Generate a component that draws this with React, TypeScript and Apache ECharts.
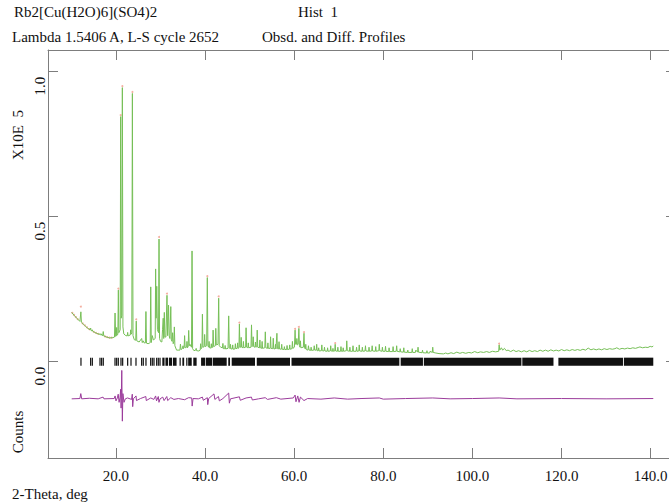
import React, { useEffect, useRef } from "react";
import * as echarts from "echarts";

const xTickValues = [20, 40, 60, 80, 100, 120, 140];
const yTickValues = [0, 0.5, 1.0];

const titleLine1 = "Rb2[Cu(H2O)6](SO4)2";
const histLabel = "Hist  1";
const titleLine2 = "Lambda 1.5406 A, L-S cycle 2652";
const profileLabel = "Obsd. and Diff. Profiles";
const yScaleLabel = "X10E  5";
const yUnitLabel = "Counts";
const xAxisLabel = "2-Theta, deg";

const calcProfile: [number, number][] = [
  [10.06,0.170],[10.6,0.160],[11.2,0.150],[11.9,0.139],
  [12.02,0.138],[12.12,0.172],[12.24,0.136],
  [12.9,0.126],[13.6,0.116],[14.2,0.110],
  [14.26,0.109],[14.32,0.116],[14.4,0.108],
  [14.62,0.106],[14.7,0.110],[14.78,0.105],
  [15.5,0.099],[16.33,0.094],[16.41,0.097],[16.49,0.093],
  [16.7,0.092],[16.78,0.096],[16.86,0.091],
  [17.03,0.090],[17.14,0.104],[17.26,0.089],
  [17.9,0.085],[18.6,0.082],[19.3,0.083],
  [19.66,0.085],[19.79,0.168],[19.92,0.087],
  [20.08,0.089],[20.15,0.118],[20.23,0.091],
  [20.42,0.095],[20.53,0.247],[20.64,0.100],
  [20.94,0.110],[21.05,0.845],[21.17,0.150],
  [21.3,0.160],[21.43,0.945],[21.56,0.120],
  [21.75,0.096],[22.2,0.090],
  [22.52,0.089],[22.62,0.101],[22.72,0.089],
  [23.2,0.092],[23.3,0.110],[23.42,0.095],
  [23.55,0.100],[23.68,0.925],[23.82,0.090],
  [24.1,0.076],[24.43,0.074],[24.55,0.140],[24.67,0.072],
  [25.2,0.068],[25.76,0.080],[25.9,0.066],[26.1,0.072],[26.3,0.065],
  [26.6,0.065],[26.72,0.173],[26.84,0.064],
  [27.2,0.062],[27.5,0.064],[27.68,0.066],[27.8,0.258],[27.92,0.066],
  [28.15,0.090],[28.4,0.075],[28.8,0.080],[28.9,0.320],[29.0,0.150],[29.15,0.260],[29.3,0.110],
  [29.55,0.100],[29.66,0.423],[29.78,0.080],[30.0,0.070],
  [30.3,0.068],[30.45,0.110],[30.6,0.150],[30.72,0.080],[30.85,0.170],[30.98,0.085],
  [31.2,0.085],[31.45,0.229],[31.58,0.090],[31.8,0.195],[31.93,0.090],
  [32.1,0.080],[32.3,0.190],[32.42,0.075],[32.6,0.070],[32.72,0.100],[32.84,0.062],
  [33.0,0.070],[33.1,0.120],[33.22,0.055],[33.6,0.040],
  [34.35,0.040],[34.47,0.061],[34.6,0.042],[34.9,0.045],[35.05,0.055],[35.15,0.045],
  [35.3,0.050],[35.4,0.090],[35.52,0.048],[35.85,0.050],[35.93,0.070],[36.05,0.048],
  [36.2,0.052],[36.32,0.108],[36.45,0.055],[36.6,0.060],[36.95,0.050],[37.07,0.382],[37.2,0.045],
  [37.5,0.038],[37.9,0.040],[38.0,0.046],[38.1,0.038],[38.6,0.037],
  [38.9,0.040],[39.0,0.062],[39.1,0.045],[39.3,0.048],[39.4,0.164],[39.52,0.050],
  [39.8,0.052],[39.9,0.094],[40.02,0.052],[40.35,0.055],[40.5,0.290],[40.63,0.055],
  [40.8,0.050],[40.9,0.070],[41.0,0.048],[41.3,0.047],[41.4,0.062],[41.5,0.048],
  [41.7,0.050],[41.8,0.109],[41.92,0.052],[42.3,0.055],[42.4,0.115],[42.52,0.058],
  [42.9,0.060],[43.05,0.219],[43.18,0.055],[43.5,0.050],[43.9,0.048],[44.0,0.063],[44.1,0.045],
  [44.4,0.045],[44.5,0.056],[44.6,0.044],[45.15,0.046],[45.3,0.158],[45.43,0.048],
  [45.6,0.045],[45.7,0.060],[45.8,0.044],[46.1,0.044],[46.2,0.058],[46.3,0.043],
  [46.7,0.044],[46.8,0.062],[46.9,0.045],[47.2,0.046],[47.3,0.065],[47.4,0.046],[47.6,0.048],[47.7,0.130],[47.82,0.050],
  [48.0,0.050],[48.1,0.084],[48.2,0.050],[48.5,0.048],[48.6,0.070],[48.7,0.048],
  [49.1,0.050],[49.2,0.117],[49.32,0.050],[49.6,0.048],[49.7,0.065],[49.8,0.048],
  [50.3,0.050],[50.42,0.127],[50.54,0.052],[50.7,0.055],[50.8,0.086],[50.9,0.052],
  [51.2,0.050],[51.3,0.068],[51.4,0.050],[51.6,0.052],[51.7,0.109],[51.82,0.050],
  [52.2,0.048],[52.3,0.075],[52.4,0.048],[52.7,0.046],[52.8,0.070],[52.9,0.046],
  [53.4,0.048],[53.52,0.103],[53.64,0.048],[54.0,0.046],[54.1,0.065],[54.2,0.046],
  [54.6,0.046],[54.7,0.086],[54.8,0.046],[55.2,0.045],[55.3,0.081],[55.4,0.045],
  [55.7,0.044],[55.8,0.060],[55.9,0.044],[56.0,0.045],[56.12,0.098],[56.24,0.045],
  [56.5,0.044],[56.6,0.069],[56.7,0.044],[57.1,0.043],[57.2,0.060],[57.3,0.043],
  [57.7,0.042],[57.8,0.052],[57.9,0.042],[58.3,0.042],[58.4,0.056],[58.5,0.042],
  [58.9,0.043],[59.0,0.058],[59.1,0.043],[59.5,0.045],[59.6,0.070],[59.7,0.046],
  [60.05,0.050],[60.2,0.109],[60.32,0.060],[60.5,0.060],[60.6,0.080],[60.72,0.058],
  [60.9,0.060],[61.05,0.115],[61.18,0.055],[61.3,0.050],[61.4,0.072],[61.5,0.048],
  [62.05,0.050],[62.2,0.098],[62.32,0.048],[62.5,0.044],[62.6,0.060],[62.7,0.042],
  [63.1,0.040],[63.2,0.055],[63.35,0.040],[63.7,0.039],[63.8,0.050],[63.9,0.039],
  [64.4,0.040],[64.5,0.055],[64.6,0.040],[64.95,0.040],[65.05,0.060],[65.15,0.038],
  [65.4,0.038],[65.5,0.048],[65.6,0.037],[66.1,0.038],[66.2,0.058],[66.3,0.038],
  [66.7,0.037],[66.8,0.050],[66.9,0.037],[67.4,0.036],[67.5,0.048],[67.6,0.036],
  [68.1,0.037],[68.2,0.055],[68.3,0.037],[68.6,0.036],[68.7,0.046],[68.8,0.036],
  [69.1,0.037],[69.2,0.060],[69.3,0.037],[69.7,0.036],[69.8,0.050],[69.9,0.036],
  [70.4,0.036],[70.5,0.052],[70.6,0.036],[70.9,0.036],[71.0,0.048],[71.1,0.036],
  [71.7,0.038],[71.8,0.072],[71.92,0.038],[72.4,0.036],[72.5,0.050],[72.6,0.036],
  [73.1,0.036],[73.2,0.055],[73.3,0.036],[73.9,0.036],[74.0,0.050],[74.1,0.036],
  [74.5,0.037],[74.6,0.058],[74.7,0.037],[75.2,0.036],[75.3,0.050],[75.4,0.036],
  [75.9,0.037],[76.0,0.055],[76.1,0.037],[76.7,0.036],[76.8,0.050],[76.9,0.036],
  [77.4,0.037],[77.5,0.055],[77.6,0.037],[78.2,0.036],[78.3,0.052],[78.4,0.036],
  [79.0,0.038],[79.1,0.060],[79.2,0.038],[79.7,0.036],[79.8,0.050],[79.9,0.036],
  [80.4,0.036],[80.5,0.053],[80.6,0.036],[81.2,0.035],[81.3,0.048],[81.4,0.035],
  [82.1,0.035],[82.2,0.052],[82.3,0.035],[82.9,0.036],[83.0,0.055],[83.1,0.036],
  [83.7,0.034],[83.8,0.045],[83.9,0.034],[84.5,0.033],[84.6,0.048],[84.7,0.033],
  [85.4,0.032],[85.5,0.040],[85.6,0.032],[86.4,0.032],[86.5,0.045],[86.6,0.032],
  [87.2,0.032],[87.3,0.040],[87.7,0.033],[87.8,0.050],[87.9,0.033],[88.7,0.031],
  [88.8,0.040],[88.9,0.031],[89.7,0.030],[89.8,0.038],[89.9,0.030],[90.4,0.030],
  [90.5,0.036],[91.0,0.032],[91.1,0.050],[91.2,0.032],[91.8,0.030],[92.5,0.028],
  [93.5,0.027],[94.0,0.030],[94.5,0.027],[95.2,0.031],[95.8,0.028],[96.5,0.033],
  [97.2,0.029],[97.8,0.032],[98.5,0.029],[99.2,0.032],[99.8,0.030],[100.5,0.035],
  [101.2,0.031],[101.8,0.034],[102.5,0.032],[103.2,0.035],[103.8,0.032],[104.5,0.036],
  [105.2,0.034],[105.9,0.036],[106.0,0.058],[106.15,0.040],[106.5,0.048],[106.8,0.040],
  [107.2,0.046],[107.6,0.038],[108.0,0.040],[108.6,0.035],[109.2,0.040],[109.8,0.035],
  [110.4,0.038],[111.0,0.034],[111.6,0.038],[112.2,0.034],[112.8,0.039],[113.4,0.035],
  [114.0,0.038],[114.6,0.035],[115.2,0.040],[115.8,0.036],[116.4,0.040],[117.0,0.036],
  [117.6,0.041],[118.2,0.037],[118.8,0.040],[119.4,0.037],[120.0,0.042],[120.6,0.038],
  [121.2,0.041],[121.8,0.038],[122.4,0.042],[123.0,0.039],[123.6,0.042],[124.2,0.039],
  [124.8,0.043],[125.4,0.040],[126.0,0.047],[126.6,0.041],[127.2,0.044],[127.8,0.041],
  [128.4,0.044],[129.0,0.041],[129.6,0.045],[130.2,0.042],[130.8,0.045],[131.4,0.043],
  [132.0,0.045],[132.4,0.048],[133.0,0.043],[133.6,0.046],[134.2,0.044],[134.8,0.047],
  [135.4,0.045],[136.0,0.048],[136.6,0.046],[137.2,0.049],[137.6,0.051],[138.2,0.048],
  [138.8,0.050],[139.4,0.049],[139.9,0.053],[140.3,0.051],[140.6,0.054]
];

const obsPoints: [number, number][] = [
  [10.2,0.168],[10.6,0.161],[11.0,0.154],[11.4,0.147],[12.12,0.19],[12.5,0.132],
  [13.0,0.125],[13.5,0.118],[14.0,0.112],[15.0,0.103],[15.5,0.099],[16.0,0.096],
  [17.5,0.087],[18.0,0.085],[18.5,0.083],[19.0,0.083],[20.53,0.252],[21.05,0.85],
  [21.43,0.95],[23.68,0.93],[24.55,0.146],[29.66,0.43],[31.45,0.235],[40.5,0.295],
  [43.05,0.225],[47.7,0.135],[60.2,0.113],[61.05,0.12],[62.2,0.102],[69.2,0.064],[106.0,0.062]
];

const diffProfile: [number, number][] = [
  [10.06,-0.128],[11.9,-0.127],[12.1,-0.110],[12.3,-0.128],[14.0,-0.126],[16.0,-0.128],
  [17.1,-0.122],[17.3,-0.128],[19.6,-0.127],[19.8,-0.118],[20.0,-0.135],[20.3,-0.125],
  [20.5,-0.112],[20.7,-0.140],[20.9,-0.125],[21.05,-0.095],[21.15,-0.160],[21.3,-0.030],
  [21.43,-0.205],[21.55,-0.110],[21.8,-0.140],[22.1,-0.128],[22.6,-0.125],[23.5,-0.130],
  [23.66,-0.112],[23.75,-0.155],[23.9,-0.128],[24.5,-0.118],[24.6,-0.134],[25.5,-0.127],
  [26.7,-0.120],[26.8,-0.134],[27.8,-0.125],[28.5,-0.130],[28.9,-0.118],[29.1,-0.135],
  [29.5,-0.120],[29.65,-0.140],[29.9,-0.128],[30.5,-0.122],[30.8,-0.134],[31.4,-0.120],
  [31.6,-0.134],[32.3,-0.124],[33.0,-0.130],[34.0,-0.127],[35.4,-0.131],[36.3,-0.124],
  [37.0,-0.125],[37.1,-0.153],[37.3,-0.127],[38.5,-0.128],[39.4,-0.122],[39.6,-0.133],
  [40.5,-0.124],[40.6,-0.148],[40.8,-0.127],[42.0,-0.111],[42.2,-0.130],[43.0,-0.120],
  [43.2,-0.135],[44.0,-0.127],[45.3,-0.108],[45.45,-0.143],[45.7,-0.128],[47.7,-0.121],
  [47.9,-0.133],[49.2,-0.125],[50.4,-0.122],[50.6,-0.132],[52.0,-0.128],[53.5,-0.124],
  [54.0,-0.130],[56.0,-0.124],[57.0,-0.129],[59.8,-0.125],[60.2,-0.115],[60.4,-0.138],
  [60.8,-0.118],[61.1,-0.140],[61.4,-0.122],[62.2,-0.134],[63.0,-0.127],[66.0,-0.129],
  [69.0,-0.125],[72.0,-0.129],[75.0,-0.127],[79.1,-0.125],[80.0,-0.129],[85.0,-0.127],
  [91.1,-0.125],[95.0,-0.128],[100.0,-0.127],[106.0,-0.125],[110.0,-0.128],[120.0,-0.127],
  [130.0,-0.128],[140.6,-0.127]
];

const reflectionSingles: number[] = [
  12.14, 14.31, 14.69, 16.41, 16.78, 17.15, 19.78, 20.15, 20.52, 21.12, 21.5, 22.62,
  23.37, 24.49, 25.76, 26.13, 26.73, 27.78, 28.15, 28.53, 29.13, 29.5, 29.88, 34.4, 35.9
];

const reflectionBands: [number, number][] = [
  [30.4,30.9],[31.1,31.7],[31.9,32.6],[32.8,33.6],[34.9,35.3],[36.2,37.0],[37.35,38.1],
  [39.1,40.0],[40.15,41.6],[41.75,44.85],[45.2,45.6],[45.97,51.2],[51.6,59.06],[59.4,83.6],
  [83.9,88.9],[89.1,111.0],[111.2,118.2],[119.3,133.8],[134.0,140.6]
];

export default function App() {
  const ref = useRef<HTMLDivElement>(null);
  useEffect(() => {
    const chart = echarts.init(ref.current!, null, { renderer: "svg" });
    const serif = "Liberation Serif, Times New Roman, serif";
    const font = "15px Liberation Serif, serif";
    const axisColor = "#7d7d7d";
    const xMin = 4.74;
    const xMax = 145.7;
    const yMin = -0.332;
    const yMax = 1.0748;
    const tickData = [
      ...reflectionSingles.map((v) => [v, v, 1]),
      ...reflectionBands.map((b) => [b[0], b[1], 0]),
    ];
    const axisBase = {
      type: "value",
      axisLine: { show: true, onZero: false, lineStyle: { color: axisColor, width: 1 } },
      splitLine: { show: false },
    };
    chart.setOption({
      animation: false,
      backgroundColor: "#ffffff",
      grid: { left: 48, top: 50, width: 628, height: 408, containLabel: false, outerBoundsMode: "none" },
      xAxis: [
        {
          ...axisBase,
          position: "bottom",
          min: xMin,
          max: xMax,
          axisTick: { show: true, inside: true, length: 10, customValues: xTickValues, lineStyle: { color: axisColor } },
          axisLabel: {
            customValues: xTickValues,
            formatter: (v: number) => v.toFixed(1),
            margin: 10,
            color: "#111",
            fontFamily: serif,
            fontSize: 15,
          },
        },
        {
          ...axisBase,
          position: "top",
          min: xMin,
          max: xMax,
          axisTick: { show: true, inside: true, length: 10, customValues: xTickValues, lineStyle: { color: axisColor } },
          axisLabel: { show: false },
        },
      ],
      yAxis: [
        {
          ...axisBase,
          position: "left",
          min: yMin,
          max: yMax,
          axisTick: { show: true, inside: true, length: 10, customValues: yTickValues, lineStyle: { color: axisColor } },
          axisLabel: {
            customValues: yTickValues,
            formatter: (v: number) => v.toFixed(1),
            rotate: 90,
            align: "right",
            verticalAlign: "middle",
            padding: [0, 5, 0, 0],
            margin: 8,
            color: "#111",
            fontFamily: serif,
            fontSize: 15,
          },
        },
        {
          ...axisBase,
          position: "right",
          min: yMin,
          max: yMax,
          axisTick: { show: true, inside: true, length: 10, customValues: yTickValues, lineStyle: { color: axisColor } },
          axisLabel: { show: false },
        },
      ],
      series: [
        {
          type: "custom",
          xAxisIndex: 0,
          yAxisIndex: 0,
          data: tickData,
          encode: { x: [0, 1], y: 2 },
          renderItem: (params: any, api: any) => {
            const a = api.coord([api.value(0), 0.014]);
            const b = api.coord([api.value(1), -0.014]);
            const single = api.value(2) === 1;
            const w = single ? 1.2 : Math.max(b[0] - a[0], 1.2);
            const x = single ? a[0] - 0.6 : a[0];
            return {
              type: "rect",
              shape: { x, y: a[1], width: w, height: b[1] - a[1] },
              style: { fill: "#111" },
            };
          },
          silent: true,
          z: 2,
        },
        {
          type: "line",
          data: diffProfile,
          showSymbol: false,
          lineStyle: { color: "#9b3c9b", width: 1 },
          itemStyle: { color: "#9b3c9b" },
          silent: true,
          z: 3,
        },
        {
          type: "scatter",
          data: obsPoints,
          symbolSize: 2,
          itemStyle: { color: "#f19a88" },
          silent: true,
          z: 3,
        },
        {
          type: "line",
          data: calcProfile,
          showSymbol: false,
          lineStyle: { color: "#76bf57", width: 1 },
          itemStyle: { color: "#76bf57" },
          silent: true,
          z: 4,
        },
      ],
      graphic: [
        { type: "text", left: 14, top: 4, style: { text: titleLine1, font, fill: "#111" } },
        { type: "text", left: 298, top: 4, style: { text: histLabel, font, fill: "#111" } },
        { type: "text", left: 12, top: 29, style: { text: titleLine2, font, fill: "#111" } },
        { type: "text", left: 262, top: 29, style: { text: profileLabel, font, fill: "#111" } },
        {
          type: "text", x: 18, y: 135, rotation: Math.PI / 2,
          style: { text: yScaleLabel, font, fill: "#111", align: "center", verticalAlign: "middle" },
        },
        {
          type: "text", x: 18, y: 432, rotation: Math.PI / 2,
          style: { text: yUnitLabel, font, fill: "#111", align: "center", verticalAlign: "middle" },
        },
        { type: "text", left: 12, top: 486, style: { text: xAxisLabel, font, fill: "#111" } },
      ],
    });
    return () => chart.dispose();
  }, []);
  return (
    <div
      ref={ref}
      style={{ position: "fixed", left: 0, top: 0, width: 669, height: 503, background: "#fff" }}
    />
  );
}
